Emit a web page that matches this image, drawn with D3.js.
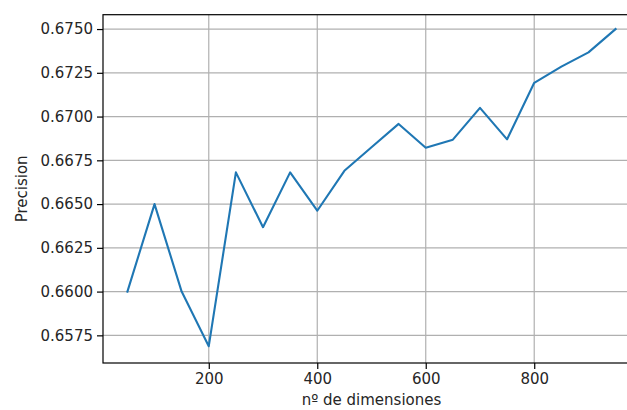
<!DOCTYPE html>
<html><head><meta charset="utf-8">
<script src="https://cdn.jsdelivr.net/npm/d3@7"></script>
<style>body{margin:0;background:#fff}svg{display:block}text{font-family:"DejaVu Sans",sans-serif;fill:#262626}</style>
</head><body><svg id="c" width="627" height="410"></svg>
<script>
const dims = [50,100,150,200,250,300,350,400,450,500,550,600,650,700,750,800,850,900,950];
const precision = [0.6600,0.6650,0.6600,0.65688,0.66681,0.66368,0.66681,0.66462,0.66690,0.66825,0.66958,0.66822,0.66868,0.67050,0.66870,0.67193,0.67285,0.67367,0.67500];
const xTicks = [200,400,600,800];
const yTicks = [0.6575,0.6600,0.6625,0.6650,0.6675,0.6700,0.6725,0.6750];
const xLabel = "nº de dimensiones";
const yLabel = "Precision";

const svg = d3.select("#c");
const L=103, R=640, T=14.7, B=363;
const x = d3.scaleLinear().domain([5,995]).range([L,R]);
const y = d3.scaleLinear().domain([0.65592,0.67582]).range([B,T]);

// grid
const g = svg.append("g");
g.selectAll(".gx").data(xTicks).enter().append("line")
 .attr("x1",d=>x(d)).attr("x2",d=>x(d)).attr("y1",T).attr("y2",B)
 .attr("stroke","#b0b0b0").attr("stroke-width",1.2);
g.selectAll(".gy").data(yTicks).enter().append("line")
 .attr("y1",d=>y(d)).attr("y2",d=>y(d)).attr("x1",L).attr("x2",R)
 .attr("stroke","#b0b0b0").attr("stroke-width",1.2);

// line
svg.append("path").datum(dims.map((d,i)=>[d,precision[i]]))
 .attr("fill","none").attr("stroke","#1f77b4").attr("stroke-width",2.1)
 .attr("stroke-linejoin","round").attr("stroke-linecap","square")
 .attr("d",d3.line().x(d=>x(d[0])).y(d=>y(d[1])));

// axes
const xa = svg.append("g").attr("transform",`translate(0,${B})`)
 .call(d3.axisBottom(x).tickValues(xTicks).tickSize(6).tickPadding(4).tickFormat(d3.format("d")));
const ya = svg.append("g").attr("transform",`translate(${L},0)`)
 .call(d3.axisLeft(y).tickValues(yTicks).tickSize(6).tickPadding(4).tickFormat(d3.format(".4f")));
[xa,ya].forEach(a=>{
  a.select(".domain").remove();
  a.selectAll("line").attr("stroke","#000").attr("stroke-width",1.2);
  a.selectAll("text").style("font-size","15px").style("font-family","DejaVu Sans").attr("fill","#262626");
});

// spines
svg.append("rect").attr("x",L).attr("y",T).attr("width",R-L).attr("height",B-T)
 .attr("fill","none").attr("stroke","#000").attr("stroke-width",1.2);

svg.append("text").attr("x",(L+R)/2).attr("y",405).attr("text-anchor","middle")
 .style("font-size","15px").text(xLabel);
svg.append("text").attr("transform",`translate(26.5,${(T+B)/2}) rotate(-90)`).attr("text-anchor","middle")
 .style("font-size","15px").text(yLabel);
</script></body></html>
